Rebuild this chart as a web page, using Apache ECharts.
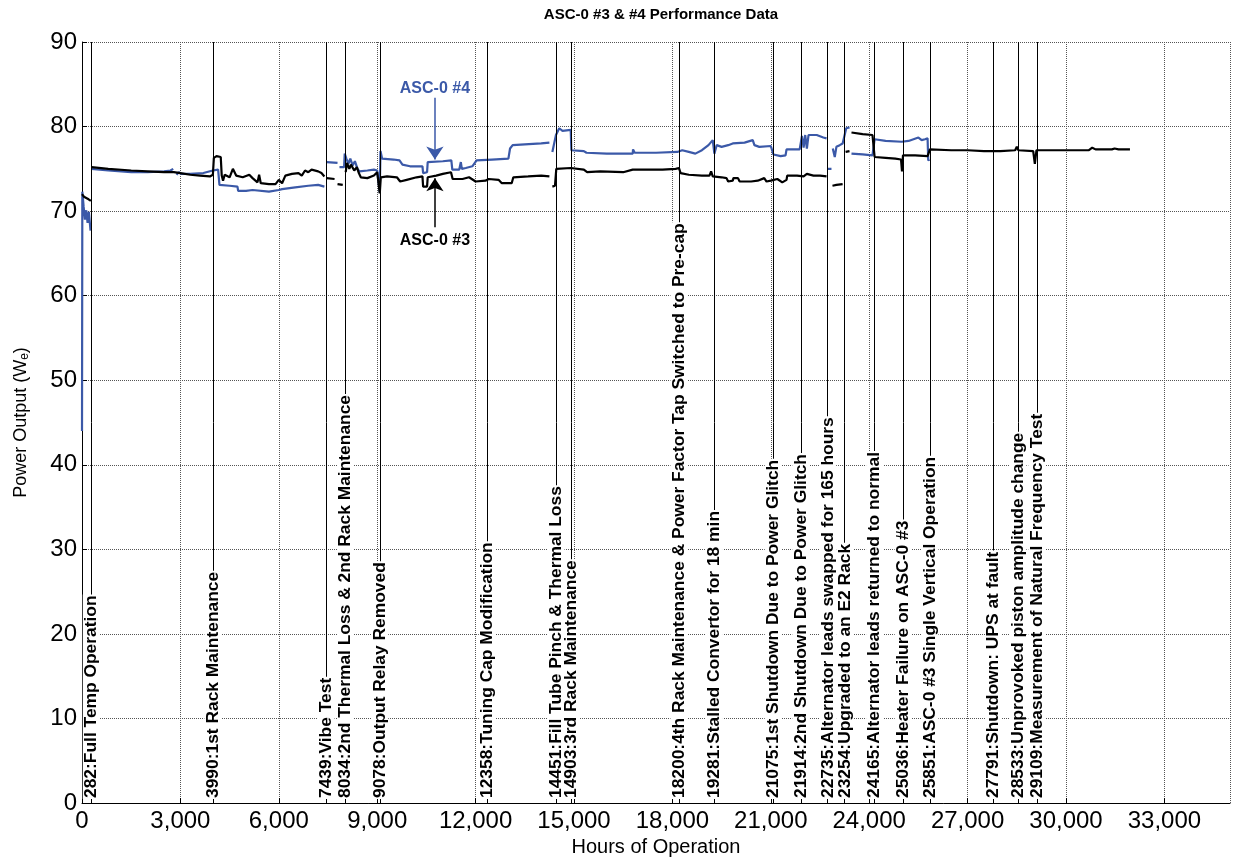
<!DOCTYPE html>
<html>
<head>
<meta charset="utf-8">
<script src="https://cdn.jsdelivr.net/npm/echarts@6/dist/echarts.min.js"></script>
<style>
html,body{margin:0;padding:0;background:#fff;}
#chart{width:1235px;height:859px;}
</style>
</head>
<body>
<div id="chart"></div>
<script>
// ---- Data (hours, power W_e) ----
const asc3Data = [
  [0,72.0],[60,71.7],[120,71.8],[200,71.4],[270,71.2],[276,null],
  [290,75.2],[800,75.0],[1500,74.8],[2000,74.7],[2500,74.6],[2800,74.6],[3000,74.5],[3300,74.3],[3600,74.2],[3900,74.1],
  [3990,74.3],[4020,76.3],[4100,76.5],[4230,76.4],[4260,74.2],[4300,73.6],[4350,74.3],[4500,74.0],[4600,75.0],[4700,74.2],
  [4900,74.0],[5100,74.3],[5200,73.9],[5350,73.4],[5400,74.3],[5450,73.3],[5700,73.2],[5900,73.2],[6000,73.7],[6100,73.3],
  [6200,74.2],[6400,74.4],[6600,74.5],[6700,74.2],[6800,74.8],[6900,74.6],[7000,74.9],[7200,74.7],[7300,74.5],[7390,74.1],[7410,null],
  [7460,73.9],[7700,73.8],[7730,null],
  [7790,73.2],[7950,73.1],[7980,null],
  [8040,74.6],[8080,75.7],[8150,75.0],[8200,75.5],[8300,74.8],[8380,75.2],[8440,74.5],[8500,74.0],[8700,73.9],[8900,74.2],
  [9000,74.6],[9060,74.8],[9078,72.1],[9110,74.0],[9300,74.1],[9600,74.0],[9700,73.5],[9900,73.7],[10200,74.0],[10380,74.1],
  [10400,72.9],[10520,72.9],[10540,74.0],[10800,74.2],[11000,74.4],[11250,74.6],[11300,73.8],[11600,73.8],[11800,74.0],
  [12000,73.5],[12300,73.6],[12400,73.8],[12700,73.7],[12800,73.3],[13100,73.3],[13150,74.0],[13600,74.1],[14000,74.2],[14250,74.1],[14300,null],
  [14340,72.9],[14420,73.0],[14460,75.0],[14900,75.1],[14960,75.0],[15300,74.9],[15400,74.6],[15800,74.7],[16500,74.6],
  [16790,74.9],[17200,74.9],[17700,74.9],[18100,75.0],[18200,75.1],[18250,74.5],[18500,74.3],[18900,74.2],[19130,74.2],
  [19180,74.7],[19230,74.1],[19500,74.0],[19650,73.9],[19700,73.5],[19840,73.6],[19860,73.9],[20000,73.9],[20050,73.5],
  [20400,73.5],[20600,73.6],[20800,73.9],[20870,73.5],[21000,73.6],[21200,73.8],[21350,73.4],[21480,73.7],[21500,74.2],
  [21800,74.2],[22000,74.1],[22100,74.4],[22300,74.2],[22500,74.2],[22700,74.1],[22720,null],
  [22880,73.0],[23000,73.1],[23190,73.2],[23220,null],
  [23280,77.0],[23400,77.1],[23420,null],
  [23460,79.3],[23800,79.1],[24100,79.0],[24165,76.4],[24500,76.3],[24800,76.2],[24970,76.1],[25000,74.7],[25030,76.6],
  [25400,76.6],[25780,76.5],[25851,77.3],[26500,77.2],[27000,77.2],[27500,77.1],[28000,77.1],[28450,77.2],[28500,77.6],
  [28550,77.2],[29000,77.1],[29050,75.6],[29100,77.2],[29600,77.2],[30000,77.2],[30700,77.2],[30800,77.5],[30900,77.3],
  [31400,77.3],[31480,77.4],[31600,77.3],[31950,77.3]
];

const asc4Data = [
  [0,44.0],[10,72.3],[50,70.5],[90,69.0],[130,70.1],[170,68.6],[210,69.9],[260,67.7],[270,null],
  [290,75.0],[800,74.8],[1500,74.6],[2000,74.6],[2500,74.7],[2700,74.8],[2780,75.0],[2820,null],
  [2880,74.3],[2950,74.6],[3030,74.4],[3300,74.4],[3700,74.5],[3990,74.8],[4150,74.9],[4190,73.1],[4500,73.0],[4740,72.9],
  [4760,72.4],[5000,72.4],[5200,72.5],[5260,72.3],[5700,72.3],[6000,72.5],[6100,72.6],[6500,72.8],[6900,73.0],[7200,73.1],[7390,72.9],[7410,null],
  [7460,75.8],[7790,75.7],[7820,null],
  [7850,75.2],[7990,75.2],[8010,76.8],[8060,76.2],[8120,75.6],[8180,76.2],[8250,75.4],[8320,75.9],[8400,75.0],[8460,74.7],
  [8700,74.8],[8900,74.9],[8950,75.1],[9000,74.8],[9050,74.9],[9078,72.2],[9100,77.1],[9150,76.2],[9500,76.1],[9680,76.0],
  [9770,75.5],[10000,75.3],[10380,75.3],[10400,74.5],[10520,74.6],[10540,75.8],[11000,75.9],[11260,76.0],[11290,74.9],
  [11500,74.9],[11550,75.8],[11580,75.0],[11700,75.1],[11900,75.3],[12030,76.0],[12500,76.1],[13000,76.2],[13050,77.4],
  [13130,77.8],[13500,77.9],[14000,78.0],[14250,78.1],[14300,null],
  [14340,77.0],[14450,79.0],[14550,79.8],[14650,79.5],[14900,79.6],[14920,77.2],[15300,77.1],[15380,76.9],[16000,76.8],
  [16790,76.8],[16800,77.3],[16850,76.9],[17500,76.9],[18150,77.0],[18300,77.2],[18500,77.0],[18700,76.8],[18900,77.2],
  [19100,77.8],[19230,78.4],[19280,76.8],[19350,77.8],[19500,77.6],[19700,77.8],[19840,78.0],[20200,78.1],[20450,78.4],
  [20500,77.8],[20650,77.6],[21000,77.7],[21080,76.7],[21300,76.5],[21450,76.6],[21480,77.3],[21800,77.3],[21880,77.3],
  [21950,78.9],[22000,77.5],[22050,79.0],[22100,77.4],[22150,79.0],[22200,79.2],[22400,79.0],[22600,78.7],[22700,78.6],[22720,null],
  [22740,75.0],[22850,75.0],[22870,null],
  [22890,77.4],[22950,76.4],[23000,77.6],[23100,77.8],[23190,78.0],[23300,79.8],[23400,79.9],[23420,null],
  [23460,76.8],[23800,76.7],[24100,76.6],[24165,78.5],[24500,78.3],[24990,78.2],[25200,78.3],[25500,78.7],[25600,78.4],
  [25700,78.5],[25780,78.6],[25800,76.0],[25840,76.1]
];

const eventHours = [282, 3990, 7439, 8034, 9078, 12358, 14451, 14903, 18200, 19281, 21075, 21914, 22735, 23254, 24165, 25036, 25851, 27791, 28533, 29109];
const eventNames = [
  'Full Temp Operation', '1st Rack Maintenance', 'Vibe Test', '2nd Thermal Loss & 2nd Rack Maintenance',
  'Output Relay Removed', 'Tuning Cap Modification', 'Fill Tube Pinch & Thermal Loss', '3rd Rack Maintenance',
  '4th Rack Maintenance & Power Factor Tap Switched to Pre-cap', 'Stalled Convertor for 18 min',
  '1st Shutdown Due to Power Glitch', '2nd Shutdown Due to Power Glitch', 'Alternator leads swapped for 165 hours',
  'Upgraded to an E2 Rack', 'Alternator leads returned to normal', 'Heater Failure on ASC-0 #3',
  'ASC-0 #3 Single Vertical Operation', 'Shutdown: UPS at fault', 'Unprovoked piston amplitude change',
  'Measurement of Natural Frequency Test'
];

// annotation arrows: [label, hours, fromValue, toValue]
const arrow4 = ['ASC-0 #4', 10760, 83.4, 76.1];
const arrow3 = ['ASC-0 #3', 10760, 68.1, 73.9];

const xTicks = { min: 0, max: 35000, interval: 3000 };
const yTicks = { min: 0, max: 90, interval: 10 };

const BLUE = '#3B59A8';
const FONT = 'Arial, "Liberation Sans", sans-serif';

const chart = echarts.init(document.getElementById('chart'), null, { renderer: 'canvas' });

const eventLines = eventHours.map((h, i) => ({
  xAxis: h,
  label: { formatter: h + ':' + eventNames[i] }
}));

const option = {
  animation: false,
  backgroundColor: '#fff',
  title: {
    text: 'ASC-0 #3 & #4 Performance Data',
    left: 656, top: 2, textAlign: 'center',
    textStyle: { fontFamily: FONT, fontSize: 15, fontWeight: 'bold', color: '#000' }
  },
  grid: { left: 82, right: 5, top: 42, bottom: 56, containLabel: false, outerBoundsMode: 'none' },
  xAxis: {
    type: 'value', min: xTicks.min, max: xTicks.max, interval: xTicks.interval,
    name: 'Hours of Operation', nameLocation: 'middle', nameGap: 33,
    nameTextStyle: { fontFamily: FONT, fontSize: 20, color: '#000' },
    axisLine: { show: true, onZero: false, lineStyle: { color: '#000', width: 1 } },
    axisTick: { show: true, inside: true, length: 5, lineStyle: { color: '#000' } },
    axisLabel: {
      fontFamily: FONT, fontSize: 24, color: '#000', margin: 6,
      formatter: v => v.toLocaleString('en-US'),
      showMaxLabel: false
    },
    splitLine: { show: true, lineStyle: { color: '#555', type: 'dotted', width: 1 } }
  },
  yAxis: {
    type: 'value', min: yTicks.min, max: yTicks.max, interval: yTicks.interval,
    name: 'Power Output (W{sub|e})', nameLocation: 'middle', nameGap: 51, nameRotate: 90,
    nameTextStyle: {
      fontFamily: FONT, fontSize: 18, color: '#000',
      rich: { sub: { fontFamily: FONT, fontSize: 12, color: '#000', padding: [8, 0, 0, 0] } }
    },
    axisLine: { show: true, lineStyle: { color: '#000', width: 1 } },
    axisTick: { show: true, inside: true, length: 5, lineStyle: { color: '#000' } },
    axisLabel: { fontFamily: FONT, fontSize: 24, color: '#000', margin: 5 },
    splitLine: { show: true, lineStyle: { color: '#555', type: 'dotted', width: 1 } }
  },
  series: [
    {
      name: 'events', type: 'line', data: [], silent: true, z: 1,
      markLine: {
        silent: true, symbol: ['none', 'none'], animation: false,
        lineStyle: { color: '#000', width: 1, type: 'solid' },
        label: {
          show: true, position: 'insideStartTop', distance: [4, 0], verticalAlign: 'middle',
          fontFamily: FONT, fontSize: 17.4, fontWeight: 'bold', color: '#000',
          backgroundColor: '#fff', padding: [0, 1]
        },
        emphasis: { disabled: true },
        data: eventLines
      }
    },
    {
      name: 'ASC-0 #4', type: 'line', data: asc4Data, showSymbol: false, symbol: 'none',
      connectNulls: false, z: 3,
      lineStyle: { color: BLUE, width: 2.2 }, itemStyle: { color: BLUE },
      markLine: {
        silent: true, symbol: ['none', 'arrow'], symbolSize: 13, animation: false,
        lineStyle: { color: BLUE, width: 1.5, type: 'solid' },
        label: { show: true, position: 'start', distance: 1, fontFamily: FONT, fontSize: 16, fontWeight: 'bold', color: BLUE, formatter: arrow4[0] },
        data: [[{ coord: [arrow4[1], arrow4[2]] }, { coord: [arrow4[1], arrow4[3]] }]]
      }
    },
    {
      name: 'ASC-0 #3', type: 'line', data: asc3Data, showSymbol: false, symbol: 'none',
      connectNulls: false, z: 4,
      lineStyle: { color: '#000', width: 2.2 }, itemStyle: { color: '#000' },
      markLine: {
        silent: true, symbol: ['none', 'arrow'], symbolSize: 13, animation: false,
        lineStyle: { color: '#000', width: 1.5, type: 'solid' },
        label: { show: true, position: 'start', distance: 5, fontFamily: FONT, fontSize: 16, fontWeight: 'bold', color: '#000', formatter: arrow3[0] },
        data: [[{ coord: [arrow3[1], arrow3[2]] }, { coord: [arrow3[1], arrow3[3]] }]]
      }
    }
  ]
};
chart.setOption(option);
</script>
</body>
</html>
